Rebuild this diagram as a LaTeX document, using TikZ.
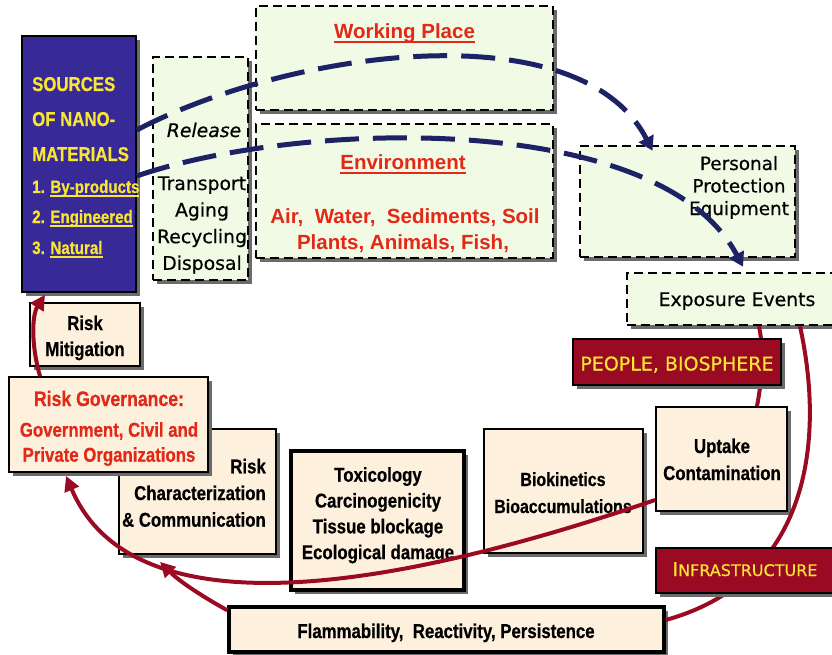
\documentclass[tikz,border=0pt]{standalone}
\usepackage{fontspec}
\setmainfont{Liberation Sans}
\newfontfamily\narrowfont[FakeStretch=0.84, FakeBold=0.6]{Liberation Sans}
\newfontfamily\dvfont[FakeBold=0.5]{DejaVu Sans}
\usetikzlibrary{arrows.meta, shadows}

\definecolor{srcblue}{RGB}{56,42,150}
\definecolor{srcyellow}{RGB}{248,230,50}
\definecolor{envgreen}{RGB}{240,250,228}
\definecolor{riskbeige}{RGB}{253,241,222}
\definecolor{darkred}{RGB}{155,10,35}
\definecolor{navy}{RGB}{28,34,100}
\definecolor{textred}{RGB}{226,40,22}

\newsavebox\ulbox
\newcommand{\uln}[1]{\sbox\ulbox{#1}\rlap{\vrule height -2pt depth 4pt width \wd\ulbox}\usebox\ulbox}

\tikzset{
    shadowed/.style={drop shadow={shadow xshift=4pt, shadow yshift=-4pt, fill=black!58, opacity=1}},
    greenbox/.style={shadowed, draw=black, fill=envgreen, line width=2.5pt, dash pattern=on 9pt off 5pt, inner sep=0pt},
    riskbox/.style={shadowed, draw=black, fill=riskbeige, line width=1.8pt, inner sep=0pt},
    redbox/.style={shadowed, draw=black, fill=darkred, line width=1.5pt, inner sep=0pt},
    nar/.style={anchor=base, inner sep=0pt, font=\narrowfont\bfseries\fontsize{#1}{#1}\selectfont},
    nar/.default=20,
    wide/.style={anchor=base, inner sep=0pt, font=\bfseries\fontsize{#1}{#1}\selectfont},
    wide/.default=20.5,
    dv/.style={anchor=base, inner sep=0pt, font=\dvfont\fontsize{#1}{#1}\selectfont},
    dv/.default=18.8,
    flow/.style={navy, line width=5pt, dash pattern=on 34pt off 14pt, -{Triangle[length=14pt, width=16pt]}},
    link/.style={darkred, line width=4pt},
    linkarrow/.style={link, -{Triangle[length=15pt, width=15pt]}}
}

\begin{document}
\begin{tikzpicture}[x=1pt, y=-1pt]
    \clip (0,0) rectangle (832,655);

    % Quellen und Ausbreitung
    \node[shadowed, draw=black, fill=srcblue, line width=1.5pt, minimum width=114pt, minimum height=256pt] (sources) at (79,164) {};
    \foreach \t [count=\i from 0] in {SOURCES, OF NANO-, MATERIALS}
        \node[nar, anchor=base west, text=srcyellow] (src\i) at (32, 91+35*\i) {\t};
    \node[nar=18, anchor=base west, text=srcyellow] (byprod) at (32,193) {1. \uln{By-products}};
    \node[nar=18, anchor=base west, text=srcyellow] (engin) at (32,223) {2. \uln{Engineered}};
    \node[nar=18, anchor=base west, text=srcyellow] (natur) at (32,254) {3. \uln{Natural}};

    \node[greenbox, minimum width=95pt, minimum height=223pt] (release) at (200.5,168.5) {};
    \node[dv] (relword) at (204,137) {\itshape Release};
    \foreach \t [count=\i from 0] in {Transport, Aging, Recycling, Disposal}
        \node[dv] (rel\i) at (202, 190+26.6*\i) {\t};

    \node[greenbox, minimum width=297pt, minimum height=104pt] (working) at (404.5,58) {};
    \node[wide, text=textred] (worktitle) at (404.5,39) {\uln{Working Place}};

    \node[greenbox, minimum width=297pt, minimum height=134pt] (environ) at (404.5,191) {};
    \node[wide, text=textred] (envtitle) at (403,170) {\uln{Environment}};
    \node[wide, text=textred] (envline1) at (405,223) {Air,\ \ Water,\ \ Sediments, Soil};
    \node[wide, text=textred] (envline2) at (403,249) {Plants, Animals, Fish,};

    \node[greenbox, minimum width=215pt, minimum height=111pt] (ppe) at (687.5,201.5) {};
    \foreach \t [count=\i from 0] in {Personal, Protection, Equipment}
        \node[dv=18.4] (ppe\i) at (739, 170+22.5*\i) {\t};

    \node[greenbox, minimum width=213pt, minimum height=52pt] (exposure) at (733.5,299) {};
    \node[dv] (exptext) at (737,306) {Exposure Events};

    % Risiko-Kette
    \node[riskbox, minimum width=131pt, minimum height=104pt] (uptake) at (721.5,459) {};
    \foreach \t [count=\i from 0] in {Uptake, Contamination}
        \node[nar] (upt\i) at (722, 453+27*\i) {\t};

    \node[riskbox, minimum width=159pt, minimum height=124pt] (biokin) at (563.5,491) {};
    \foreach \t [count=\i from 0] in {Biokinetics, Bioaccumulations}
        \node[nar=19] (bio\i) at (563, 486+27*\i) {\t};

    \node[riskbox, line width=3.5pt, minimum width=173pt, minimum height=139pt] (toxic) at (377.5,520.5) {};
    \foreach \t [count=\i from 0] in {Toxicology, Carcinogenicity, Tissue blockage, Ecological damage}
        \node[nar] (tox\i) at (378, 481.7+25.8*\i) {\t};

    \node[riskbox, line width=3.5pt, minimum width=435pt, minimum height=45pt] (flamm) at (446.5,629.5) {};
    \node[nar] (flamtext) at (446,638) {Flammability,\ \ Reactivity, Persistence};

    \node[riskbox, minimum width=157pt, minimum height=125pt] (charact) at (197.5,491.5) {};
    \foreach \t [count=\i from 0] in {Risk, Characterization, \& Communication}
        \node[nar, anchor=base east] (char\i) at (266, 473.3+26.7*\i) {\t};

    \node[riskbox, minimum width=199pt, minimum height=95pt] (govern) at (108.5,424.5) {};
    \node[nar=21, text=textred] (govtitle) at (109,406) {Risk Governance:};
    \foreach \t [count=\i from 0] in {{Government, Civil and}, Private Organizations}
        \node[nar, text=textred] (gov\i) at (109, 436.7+25*\i) {\t};

    \node[riskbox, minimum width=110pt, minimum height=63pt] (mitig) at (85,334.5) {};
    \foreach \t [count=\i from 0] in {Risk, Mitigation}
        \node[nar] (mit\i) at (85, 330+26*\i) {\t};

    % Pfeile
    \draw[flow] ([yshift=34pt]sources.east) .. controls (290,50) and (580,10) .. ([xshift=-35pt, yshift=-6pt]ppe.north);
    \draw[flow] ([yshift=-12pt]sources.east) .. controls (300,120) and (660,110) .. ([xshift=9.5pt, yshift=5pt]exposure.north);

    \draw[link] ([xshift=25.5pt]exposure.south) .. controls (765,355) and (761,385) .. ([xshift=35.5pt]uptake.north);
    \draw[link] ([xshift=66.5pt]exposure.south) .. controls (825,440) and (810,580) .. ([yshift=9.5pt]flamm.east);
    \draw[linkarrow] ([yshift=-41pt]uptake.west) .. controls (450,570) and (140,650) .. ([xshift=-42.5pt, yshift=-3pt]govern.south);
    \draw[linkarrow] ([yshift=-5pt]flamm.north west) .. controls (205,598) and (180,582) .. ([xshift=-37.5pt, yshift=-7pt]charact.south);
    \draw[linkarrow] ([xshift=-68.5pt]govern.north) .. controls (31,345) and (32,315) .. ([xshift=-34pt, yshift=-2pt]sources.south);

    % Beschriftete Balken
    \node[redbox, minimum width=208pt, minimum height=46pt] (people) at (677,362) {};
    \node[dv=19, text=srcyellow] (peopletext) at (677,370.5) {PEOPLE, BIOSPHERE};
    \node[redbox, minimum width=186pt, minimum height=45pt] (infra) at (749,570.5) {};
    \node[dv=19, text=srcyellow] (infratext) at (745,576) {I{\fontsize{16}{16}\selectfont NFRASTRUCTURE}};
\end{tikzpicture}
\end{document}
